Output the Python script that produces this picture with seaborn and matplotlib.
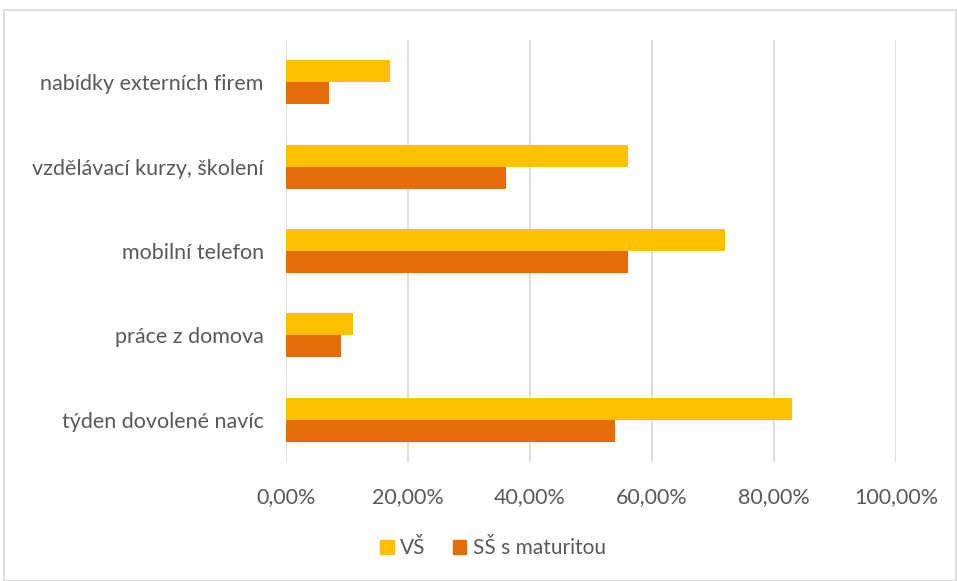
import matplotlib
matplotlib.use("Agg")
import matplotlib.pyplot as plt
from matplotlib.ticker import FuncFormatter
from matplotlib.patches import Rectangle
import seaborn as sns
import pandas as pd

categories = [
    "nabídky externích firem",
    "vzdělávací kurzy, školení",
    "mobilní telefon",
    "práce z domova",
    "týden dovolené navíc",
]
series_names = ["VŠ", "SŠ s maturitou"]
vs_values = [0.17, 0.56, 0.72, 0.11, 0.83]
ss_values = [0.07, 0.36, 0.56, 0.09, 0.54]
colors = ["#FFC000", "#E46C0A"]
x_ticks = [0.0, 0.2, 0.4, 0.6, 0.8, 1.0]

df = pd.DataFrame({
    "kategorie": categories * 2,
    "skupina": [series_names[0]] * len(categories) + [series_names[1]] * len(categories),
    "podíl": vs_values + ss_values,
})

sns.set_theme(style="white")
plt.rcParams["font.family"] = ["Lato", "DejaVu Sans"]
text_color = "#595959"

fig = plt.figure(figsize=(9.57, 5.81), dpi=100)
ax = fig.add_axes([286 / 957, 1 - 462 / 581, (896 - 286) / 957, (462 - 40) / 581])

sns.barplot(
    data=df, x="podíl", y="kategorie", hue="skupina", orient="h",
    order=categories, hue_order=series_names, palette=colors, saturation=1,
    width=0.52, edgecolor="none", linewidth=0, ax=ax, legend=False,
)

ax.set_xlim(0, 1.0)
ax.set_ylim(len(categories) - 0.5, -0.5)
ax.set_xticks(x_ticks)
ax.xaxis.set_major_formatter(FuncFormatter(lambda v, _: f"{v * 100:.2f}".replace(".", ",") + "%"))
ax.grid(axis="x", color="#D9D9D9", linewidth=1.2)
ax.grid(axis="y", visible=False)
ax.set_axisbelow(True)
for s in ax.spines.values():
    s.set_visible(False)
ax.set_xlabel("")
ax.set_ylabel("")
ax.tick_params(axis="both", length=0, labelsize=15.5, colors=text_color)
ax.tick_params(axis="x", pad=18)
ax.tick_params(axis="y", pad=16)

handles = [Rectangle((0, 0), 1, 1, color=c) for c in colors]
fig.legend(
    handles, series_names, loc="center", bbox_to_anchor=(493 / 957, 1 - 548 / 581),
    ncol=2, frameon=False, fontsize=15, labelcolor=text_color,
    handlelength=0.65, handleheight=0.65, handletextpad=0.3, columnspacing=1.3,
)

fig.patches.append(Rectangle(
    (4 / 957, 0), 1 - 5 / 957, 1 - 10 / 581, transform=fig.transFigure,
    fill=False, edgecolor="#D9D9D9", linewidth=1.2,
))

fig.savefig("out.png", dpi=100, facecolor="white")
